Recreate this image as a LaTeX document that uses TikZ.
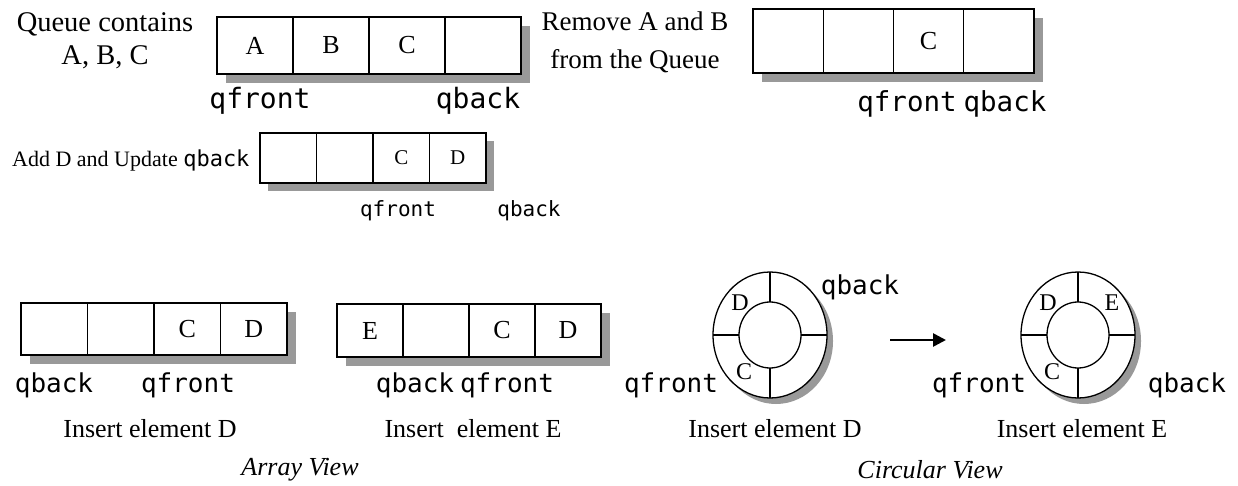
\documentclass[tikz,border=0pt]{standalone}
\usepackage{fontspec}
\setmainfont{Liberation Serif}
\newfontfamily\qmono{DejaVu Sans Mono}
\usetikzlibrary{arrows.meta,shapes.geometric}
\tikzset{
  cell/.style={draw=black, line width=1.3pt, fill=white, inner sep=0pt, outer sep=0pt, anchor=center},
  shad/.style={fill=black!40},
  lbl/.style={inner sep=0pt, font=\fontsize{26}{33}\selectfont, align=center},
  smlbl/.style={inner sep=0pt, font=\fontsize{22}{25}\selectfont},
  ptr/.style={inner sep=0pt, font=\qmono\fontsize{28}{32}\selectfont},
  smptr/.style={inner sep=0pt, font=\qmono\fontsize{21}{25}\selectfont},
  ring/.style={ellipse, draw=black, line width=1.3pt, fill=white, inner sep=0pt, outer sep=0pt},
  ringtxt/.style={inner sep=0pt, font=\fontsize{24}{26}\selectfont},
  view/.style={inner sep=0pt, font=\itshape\fontsize{26}{30}\selectfont},
  div/.style={line width=1.3pt}
}
\begin{document}
\begin{tikzpicture}[x=1pt,y=-1pt]
\useasboundingbox (0,0) rectangle (1238,486);
\fill[white] (0,0) rectangle (1238,486);

% ---------- Top-left: Queue contains A, B, C
\node[lbl, font=\fontsize{28.5}{33}\selectfont] (t1) at (105,41) {Queue contains\\A, B, C};
\fill[shad] (226,26) rectangle (530,83);
\node[cell, minimum width=76, minimum height=57, font=\fontsize{26}{30}\selectfont] (a1c1) at (255,45.5) {A};
\node[cell, minimum width=76, minimum height=57, font=\fontsize{26}{30}\selectfont] (a1c2) at (331,45.5) {B};
\node[cell, minimum width=76, minimum height=57, font=\fontsize{26}{30}\selectfont] (a1c3) at (407,45.5) {C};
\node[cell, minimum width=76, minimum height=57] (a1c4) at (483,45.5) {};
\node[ptr] (a1f) at (260,101) {qfront};
\node[ptr] (a1b) at (478,101) {qback};

% ---------- Top-right: Remove A and B
\node[lbl, font=\fontsize{27}{38}\selectfont] (t2) at (635,42) {Remove A and B\\from the Queue};
\fill[shad] (762,18) rectangle (1043,82);
\node[cell, minimum width=70.25, minimum height=64] (a2c1) at (788.1,41) {};
\node[cell, minimum width=70.25, minimum height=64] (a2c2) at (858.4,41) {};
\node[cell, minimum width=70.25, minimum height=64, font=\fontsize{26}{30}\selectfont] (a2c3) at (928.6,41) {C};
\node[cell, minimum width=70.25, minimum height=64] (a2c4) at (998.9,41) {};
\node[ptr, font=\qmono\fontsize{27.5}{32}\selectfont] (a2f) at (907,104) {qfront};
\node[ptr, font=\qmono\fontsize{27.5}{32}\selectfont] (a2b) at (1005,104) {qback};

% ---------- Middle: Add D and Update qback
\node[smlbl, anchor=west] (t3) at (12,160) {Add D and Update {\qmono\fontsize{22}{25}\selectfont qback}};
\fill[shad] (268,141) rectangle (494,191);
\node[cell, minimum width=56.5, minimum height=50] (a3c1) at (288.25,158) {};
\node[cell, minimum width=56.5, minimum height=50] (a3c2) at (344.75,158) {};
\node[cell, minimum width=56.5, minimum height=50, font=\fontsize{21}{25}\selectfont] (a3c3) at (401.25,158) {C};
\node[cell, minimum width=56.5, minimum height=50, font=\fontsize{21}{25}\selectfont] (a3c4) at (457.75,158) {D};
\node[smptr] (a3f) at (398,211) {qfront};
\node[smptr] (a3b) at (529,211) {qback};

% ---------- Bottom-left array view: Insert element D
\fill[shad] (30,312) rectangle (296,364);
\node[cell, minimum width=66.5, minimum height=52] (a4c1) at (54.25,329) {};
\node[cell, minimum width=66.5, minimum height=52] (a4c2) at (120.75,329) {};
\node[cell, minimum width=66.5, minimum height=52, font=\fontsize{26}{30}\selectfont] (a4c3) at (187.25,329) {C};
\node[cell, minimum width=66.5, minimum height=52, font=\fontsize{26}{30}\selectfont] (a4c4) at (253.75,329) {D};
\node[ptr, font=\qmono\fontsize{26}{30}\selectfont] (a4b) at (54,385) {qback};
\node[ptr, font=\qmono\fontsize{26}{30}\selectfont] (a4f) at (188,385) {qfront};
\node[lbl] (c4) at (150,429) {Insert element D};

% ---------- Bottom array view: Insert element E
\fill[shad] (346,313) rectangle (610,366);
\node[cell, minimum width=66, minimum height=53, font=\fontsize{26}{30}\selectfont] (a5c1) at (370,330.5) {E};
\node[cell, minimum width=66, minimum height=53] (a5c2) at (436,330.5) {};
\node[cell, minimum width=66, minimum height=53, font=\fontsize{26}{30}\selectfont] (a5c3) at (502,330.5) {C};
\node[cell, minimum width=66, minimum height=53, font=\fontsize{26}{30}\selectfont] (a5c4) at (568,330.5) {D};
\node[ptr, font=\qmono\fontsize{26}{30}\selectfont] (a5b) at (415,385) {qback};
\node[ptr, font=\qmono\fontsize{26}{30}\selectfont] (a5f) at (507,385) {qfront};
\node[lbl] (c5) at (473,429) {Insert\ \ element E};

\node[view] (av) at (300,470) {Array View};

% ---------- Circular view 1
\fill[shad] (776,341) ellipse [x radius=57, y radius=63];
\node[ring, minimum width=114, minimum height=126] (r1o) at (770,335) {};
\node[ring, minimum width=62, minimum height=66] (r1i) at (770,335) {};
\draw[div] (r1o.north) -- (r1i.north);
\draw[div] (r1i.south) -- (r1o.south);
\draw[div] (r1o.west) -- (r1i.west);
\draw[div] (r1i.east) -- (r1o.east);
\node[ringtxt] (r1d) at (740,303) {D};
\node[ringtxt] (r1c) at (744,372) {C};
\node[ptr, font=\qmono\fontsize{26}{30}\selectfont] (r1b) at (860,287) {qback};
\node[ptr, font=\qmono\fontsize{26}{30}\selectfont] (r1f) at (671,385) {qfront};
\node[lbl] (c6) at (775,429) {Insert element D};

% ---------- Arrow
\coordinate (ar1) at (890,340);
\coordinate (ar2) at (946,340);
\draw[line width=2.6pt, -{Triangle[length=13pt,width=13pt]}] (ar1) -- (ar2);

% ---------- Circular view 2
\fill[shad] (1084,341) ellipse [x radius=57, y radius=63];
\node[ring, minimum width=114, minimum height=126] (r2o) at (1078,335) {};
\node[ring, minimum width=62, minimum height=66] (r2i) at (1078,335) {};
\draw[div] (r2o.north) -- (r2i.north);
\draw[div] (r2i.south) -- (r2o.south);
\draw[div] (r2o.west) -- (r2i.west);
\draw[div] (r2i.east) -- (r2o.east);
\node[ringtxt] (r2d) at (1048,303) {D};
\node[ringtxt] (r2e) at (1112,303) {E};
\node[ringtxt] (r2c) at (1052,372) {C};
\node[ptr, font=\qmono\fontsize{26}{30}\selectfont] (r2f) at (979,385) {qfront};
\node[ptr, font=\qmono\fontsize{26}{30}\selectfont] (r2b) at (1187,385) {qback};
\node[lbl] (c7) at (1082,429) {Insert element E};

\node[view] (cv) at (930,470) {Circular View};
\end{tikzpicture}
\end{document}
